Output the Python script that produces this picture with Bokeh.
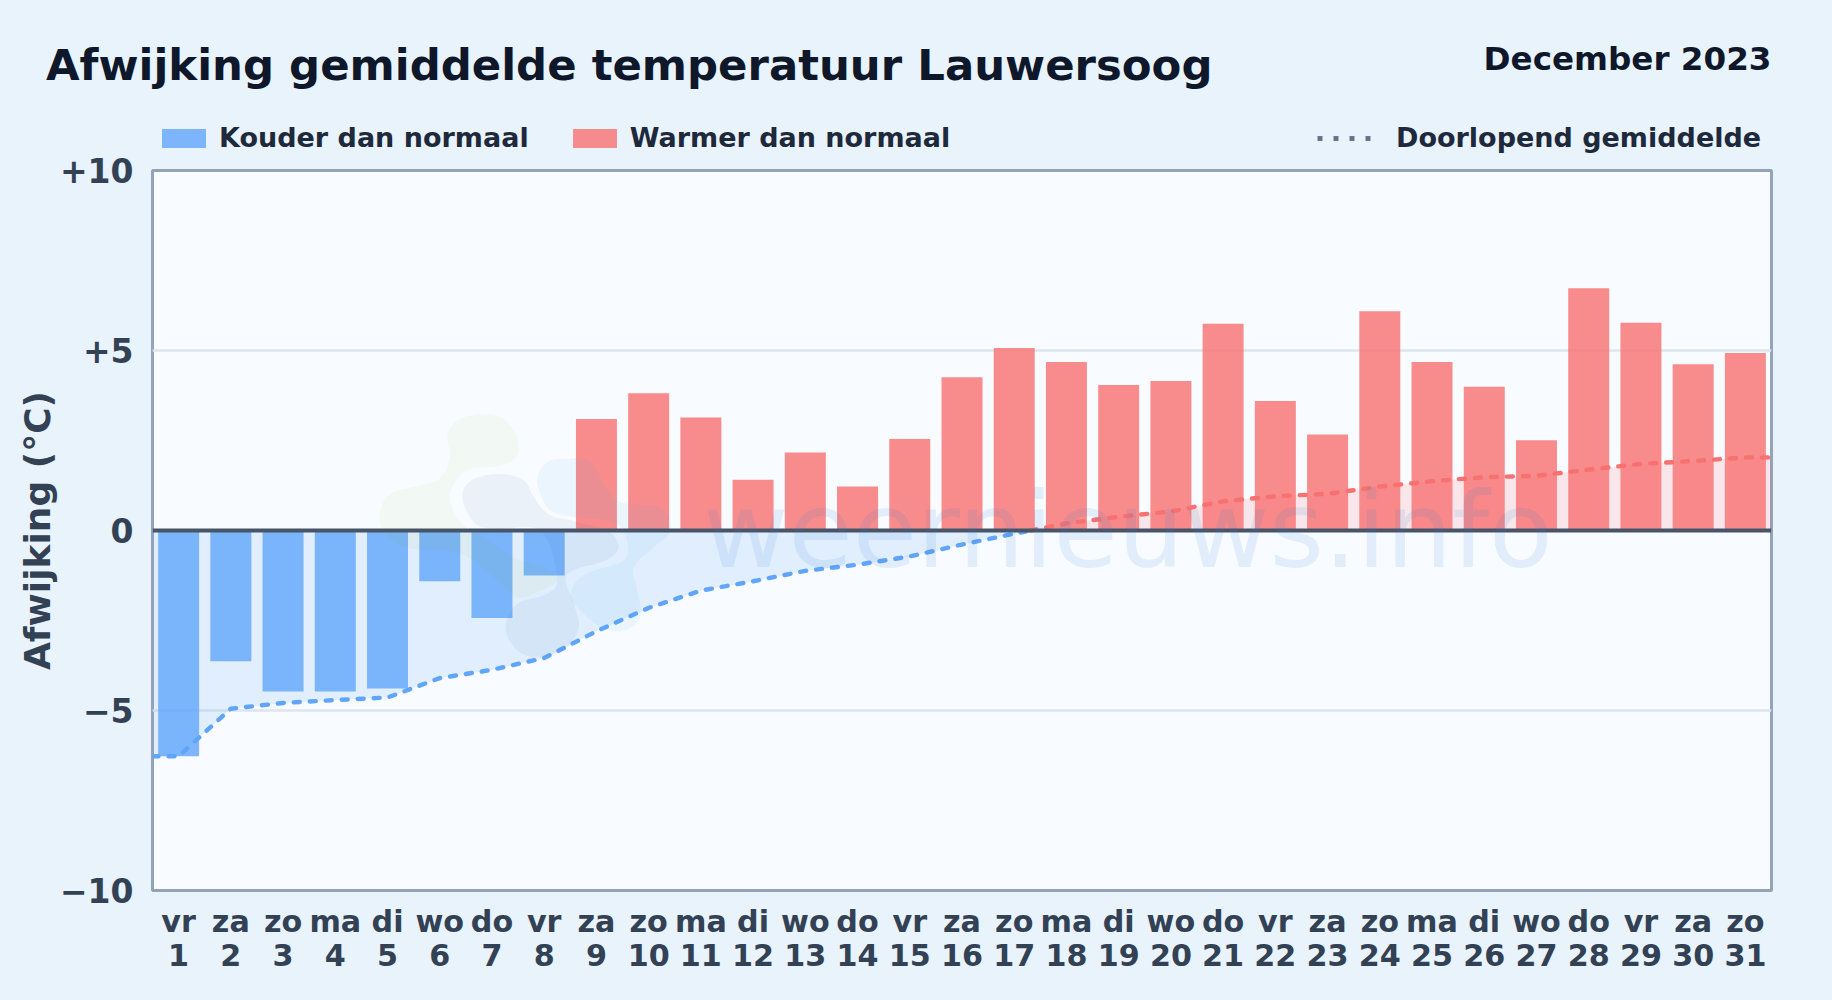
from bokeh.embed import file_html
from bokeh.resources import INLINE
from bokeh.layouts import column
from bokeh.plotting import figure
from bokeh.models import (ColumnDataSource, Range1d, FixedTicker, Label, Legend, LegendItem, Span, LinearAxis)

# ---------- data ----------
TITLE = "Afwijking gemiddelde temperatuur Lauwersoog"
PERIOD = "December 2023"
WEEKDAYS = ["vr", "za", "zo", "ma", "di", "wo", "do", "vr", "za", "zo", "ma", "di", "wo", "do", "vr", "za",
            "zo", "ma", "di", "wo", "do", "vr", "za", "zo", "ma", "di", "wo", "do", "vr", "za", "zo"]
DAYS = list(range(1, 32))
ANOMALY = [-6.27, -3.63, -4.47, -4.47, -4.39, -1.41, -2.43, -1.25, 3.10, 3.81, 3.14, 1.41, 2.17, 1.22, 2.54, 4.26,
           5.07, 4.68, 4.04, 4.15, 5.74, 3.60, 2.67, 6.09, 4.68, 3.99, 2.51, 6.73, 5.77, 4.62, 4.93]
RUNNING = [-6.27, -4.95, -4.79, -4.71, -4.64, -4.10, -3.87, -3.54, -2.80, -2.15, -1.67, -1.41, -1.12, -0.95, -0.72,
           -0.39, -0.09, 0.20, 0.38, 0.53, 0.81, 0.95, 1.02, 1.22, 1.37, 1.48, 1.52, 1.69, 1.85, 1.93, 2.03]
Y_TICKS = [-10, -5, 0, 5, 10]
Y_LABELS = ["\u221210", "\u22125", "0", "+5", "+10"]

# ---------- page geometry ----------
W, H = 1832, 1000
HEADER_H = 155
OVERLAP = 14          # the chart figure (transparent border) reaches this far under the header
F_LEFT, F_RIGHT, F_TOP, F_BOTTOM = 152, 1771, 170, 890
FONT = "DejaVu Sans"
BG = "#e8f3fc"
BLUE, RED = "#60a5fa", "#f87171"
LIFT = 0.33  # label baseline correction, in em

p = figure(width=W, height=H - HEADER_H + OVERLAP, output_backend="svg", toolbar_location=None,
           x_range=Range1d(0.5, 31.5), y_range=Range1d(-10, 10),
           min_border_left=F_LEFT, min_border_right=W - F_RIGHT,
           min_border_top=F_TOP - HEADER_H + OVERLAP, min_border_bottom=H - F_BOTTOM,
           background_fill_color="#f8fbff", border_fill_color=None, frame_align=False,
           margin=(-OVERLAP, 0, 0, 0))
p.outline_line_color = "#94a3b8"
p.outline_line_width = 3

# axes: day numbers are a second axis below the weekday axis
p.xaxis.ticker = FixedTicker(ticks=DAYS)
p.xaxis.major_label_overrides = {d: w for d, w in zip(DAYS, WEEKDAYS)}
day_axis = LinearAxis(ticker=FixedTicker(ticks=DAYS))
p.add_layout(day_axis, "below")
p.yaxis.ticker = FixedTicker(ticks=Y_TICKS)
p.yaxis.major_label_overrides = dict(zip(Y_TICKS, Y_LABELS))
for ax in (p.xaxis[0], day_axis, p.yaxis[0]):
    ax.axis_line_color = None
    ax.major_tick_line_color = None
    ax.minor_tick_line_color = None
    ax.major_label_text_font = FONT
    ax.major_label_text_font_style = "bold"
    ax.major_label_text_color = "#334155"
    ax.major_label_text_font_size = "30.2px"
p.xaxis[0].major_label_standoff = 7
day_axis.major_label_standoff = -4
p.yaxis.major_label_text_font_size = "33px"
p.yaxis.major_label_standoff = 13
p.yaxis.axis_label = "Afwijking (\u00b0C)"
p.yaxis.axis_label_text_font = FONT
p.yaxis.axis_label_text_font_style = "bold"
p.yaxis.axis_label_text_font_size = "36px"
p.yaxis.axis_label_text_color = "#334155"
p.yaxis.axis_label_standoff = -1

p.xgrid.visible = False
p.ygrid.ticker = FixedTicker(ticks=Y_TICKS)
p.ygrid.grid_line_color = "#dde5ee"
p.ygrid.grid_line_width = 2.3

# shaded area between running mean and zero
cross = 17 + (0 - RUNNING[16]) / (RUNNING[17] - RUNNING[16])
line_x = [0.5] + DAYS + [31.5]
line_y = [RUNNING[0]] + RUNNING + [RUNNING[-1]]
neg_x = [x for x in line_x if x < cross] + [cross]
neg_y = [y for x, y in zip(line_x, line_y) if x < cross] + [0]
pos_x = [cross] + [x for x in line_x if x > cross]
pos_y = [0] + [y for x, y in zip(line_x, line_y) if x > cross]
p.varea(x=neg_x, y1=[0] * len(neg_x), y2=neg_y, fill_color=BLUE, fill_alpha=0.15)
p.varea(x=pos_x, y1=[0] * len(pos_x), y2=pos_y, fill_color=RED, fill_alpha=0.15)

# bars
cold = ColumnDataSource(dict(x=[d for d, v in zip(DAYS, ANOMALY) if v < 0], top=[v for v in ANOMALY if v < 0]))
warm = ColumnDataSource(dict(x=[d for d, v in zip(DAYS, ANOMALY) if v >= 0], top=[v for v in ANOMALY if v >= 0]))
p.vbar(x="x", top="top", bottom=0, width=0.785, source=cold, fill_color=BLUE, fill_alpha=0.8, line_color=None)
p.vbar(x="x", top="top", bottom=0, width=0.785, source=warm, fill_color=RED, fill_alpha=0.8, line_color=None)

# running mean
DASH = "6 10"
p.line(neg_x, neg_y, line_color=BLUE, line_width=4.4, line_dash=DASH, line_cap="round")
p.line(pos_x, pos_y, line_color=RED, line_width=4.4, line_dash=DASH, line_cap="round")

p.add_layout(Span(location=0, dimension="width", line_color="#475569", line_width=4))

# watermark: logo blobs and site name, faint, above the bars
def smooth(pts, n=8):
    out = []
    m = len(pts)
    for i in range(m):
        p0, p1, p2, p3 = pts[i - 1], pts[i], pts[(i + 1) % m], pts[(i + 2) % m]
        for k in range(n):
            t = k / n
            f = lambda a, b, c, d: 0.5 * (2 * b + (c - a) * t + (2 * a - 5 * b + 4 * c - d) * t ** 2 + (3 * b - a - 3 * c + d) * t ** 3)
            out.append((f(p0[0], p1[0], p2[0], p3[0]), f(p0[1], p1[1], p2[1], p3[1])))
    return out
def blob(pts, color, alpha):
    pix = [(360 + a / 3, 390 + b / 3) for a, b in smooth(pts)]
    xs = [0.5 + 31 * (a - F_LEFT) / (F_RIGHT - F_LEFT) for a, _ in pix]
    ys = [10 - 20 * (b - F_TOP) / (F_BOTTOM - F_TOP) for _, b in pix]
    p.patch(xs, ys, fill_color=color, fill_alpha=alpha, line_color=None)
LOGO_GREEN = [(58, 370), (90, 310), (180, 285), (240, 262), (268, 200), (262, 130), (300, 85), (380, 70), (440, 95),
              (472, 150), (465, 200), (410, 228), (330, 235), (285, 270), (268, 325), (300, 395), (360, 432),
              (460, 500), (570, 540), (590, 570), (540, 600), (470, 620), (400, 560), (300, 490), (140, 472), (75, 430)]
LOGO_SLATE = [(305, 320), (335, 268), (420, 250), (490, 270), (520, 320), (565, 372), (640, 392), (740, 420), (775, 470),
              (735, 510), (650, 535), (615, 565), (640, 640), (655, 710), (620, 770), (540, 800), (470, 780), (435, 710),
              (470, 640), (560, 610), (590, 560), (540, 420), (400, 415), (340, 395)]
LOGO_BLUE = [(530, 260), (560, 215), (620, 205), (690, 215), (770, 330), (900, 350), (930, 420), (880, 470), (820, 530),
             (830, 600), (840, 680), (790, 720), (720, 710), (660, 660), (630, 620), (650, 570), (700, 540), (790, 510),
             (800, 450), (760, 395), (640, 380), (570, 360), (540, 310)]
blob(LOGO_GREEN, "#84cc16", 0.05)
blob(LOGO_SLATE, "#1e5a9a", 0.06)
blob(LOGO_BLUE, "#38a5f5", 0.07)
p.add_layout(Label(x=(1127.5 - F_LEFT), y=F_BOTTOM - (565 - LIFT * 104.5), x_units="screen", y_units="screen",
                   text="weernieuws.info", text_font=FONT, text_font_size="104.5px", text_color="#2f7fd0",
                   text_alpha=0.11, text_align="center", text_baseline="alphabetic"))

# ---------- header strip: title, period, legends ----------
hd = figure(width=W, height=HEADER_H, output_backend="svg", toolbar_location=None,
            x_range=Range1d(0, W), y_range=Range1d(HEADER_H, 0), x_axis_location=None, y_axis_location=None,
            min_border=0, background_fill_color=BG, border_fill_color=BG, frame_align=False)
hd.outline_line_color = None
hd.grid.visible = False

def add_label(text, px, py, size, color, align="left"):
    hd.add_layout(Label(x=px, y=HEADER_H - (py - LIFT * size), x_units="screen", y_units="screen", text=text,
                        text_font=FONT, text_font_style="bold", text_font_size=f"{size}px", text_color=color,
                        text_align=align, text_baseline="alphabetic"))
add_label(TITLE, 45.5, 79, 43.4, "#0f172a")
add_label(PERIOD, 1771, 69, 32.6, "#0f172a", align="right")

key_cold = hd.vbar(x=[float("nan")], top=[float("nan")], width=1, fill_color=BLUE, fill_alpha=0.8, line_color=None)
key_warm = hd.vbar(x=[float("nan")], top=[float("nan")], width=1, fill_color=RED, fill_alpha=0.8, line_color=None)
key_mean = hd.line([float("nan")], [float("nan")], line_color="#64748b", line_width=5, line_dash="5 11")
def make_legend(items, left, glyph_w, glyph_h, standoff, spacing):
    lg = Legend(items=items, orientation="horizontal", location=(left, 2),
                label_text_font=FONT, label_text_font_style="bold", label_text_font_size="27px",
                label_text_color="#1e293b", glyph_width=glyph_w, glyph_height=glyph_h,
                label_standoff=standoff, spacing=spacing, padding=0, margin=0,
                background_fill_alpha=0, border_line_color=None)
    hd.add_layout(lg, "center")
make_legend([LegendItem(label="Kouder dan normaal", renderers=[key_cold]),
             LegendItem(label="Warmer dan normaal", renderers=[key_warm])], 156, 55, 24, 8, 38)
make_legend([LegendItem(label="Doorlopend gemiddelde", renderers=[key_mean])], 1317, 56, 24, 23, 0)

page = column(hd, p, spacing=0)
html = file_html(page, INLINE)
html = html.replace("</head>", f"<style>html,body{{margin:0;background:{BG};overflow:hidden}}</style></head>", 1)
open("out.html", "w").write(html)
